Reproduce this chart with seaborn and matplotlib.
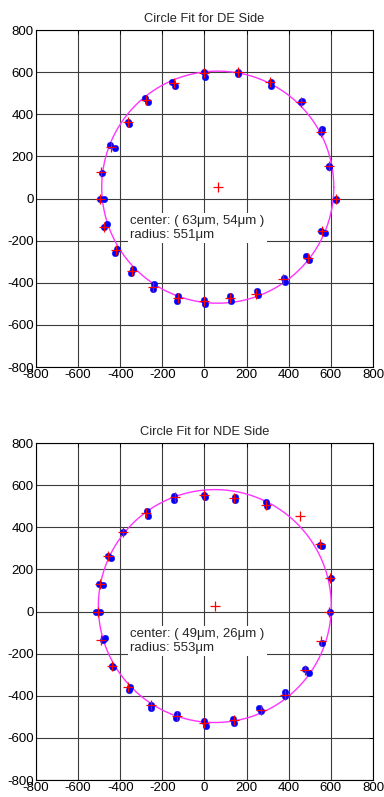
import numpy as np
import pandas as pd
import matplotlib
matplotlib.use("Agg")
import matplotlib.pyplot as plt
import seaborn as sns

sns.set_theme(style="white")
plt.rcParams['font.family'] = ['Liberation Sans', 'DejaVu Sans']

# ---- DE side ----
de_title = "Circle Fit for DE Side"
de_blue_x = [0, 3, 161, 161, 316, 316, 459, 462, 554, 559, 589, 591, 622, 625,
             555, 573, 483, 495, 377, 380, 250, 253, 123, 127, -3, 3,
             -127, -130, -240, -245, -340, -348, -416, -427, -464, -479, -498, -475,
             -488, -451, -427, -364, -359, -282, -269, -153, -142]
de_blue_y = [600, 579, 600, 592, 552, 536, 457, 462, 318, 331, 153, 150, -3, -6,
             -152, -165, -275, -291, -378, -397, -437, -456, -465, -487, -481, -500,
             -465, -487, -405, -429, -334, -353, -239, -258, -123, -136, -3, -3,
             122, 256, 240, 362, 354, 476, 457, 555, 532]
de_red_x = [0, 160, 312, 456, 555, 589, 622, 559, 490, 372, 245, 119, -3,
            -127, -245, -345, -422, -479, -495, -490, -443, -364, -277, -147]
de_red_y = [595, 600, 552, 460, 318, 153, -3, -152, -282, -381, -453, -472, -487,
            -472, -418, -345, -244, -136, -3, 125, 247, 362, 468, 547]
de_center = (63, 54)
de_radius = 551

# ---- NDE side ----
nde_title = "Circle Fit for NDE Side"
nde_blue_x = [0, 3, 146, 147, 293, 297, 549, 557, 601, -147, -146, -272, -269,
              -385, -456, -443, -503, -483, -514, -495, -483, -472, -438, -435,
              -356, -359, -256, -253, -130, -134, -3, 5, 134, 142, 261, 269,
              383, 384, 479, 495, 558, 596]
nde_blue_y = [551, 544, 544, 528, 519, 500, 315, 313, 157, 547, 528, 476, 456,
              379, 263, 252, 133, 125, -3, -3, -134, -127, -258, -261,
              -356, -372, -443, -459, -487, -506, -522, -543, -511, -527, -456, -472,
              -380, -400, -274, -290, -150, -4]
nde_red_x = [0, 142, 293, 454, 549, 598, -139, -277, -388, -456, -498,
             -506, -491, -438, -364, -256, -131, 0, 142, 269, 380, 479, 554, 593]
nde_red_y = [551, 540, 508, 453, 323, 160, 543, 468, 377, 263, 133,
             -3, -134, -258, -359, -446, -498, -530, -514, -467, -396, -277, -142, -3]
nde_center = (49, 26)
nde_radius = 553

ticks = [-800, -600, -400, -200, 0, 200, 400, 600, 800]

fig = plt.figure(figsize=(3.84, 7.97), dpi=100)
ax1 = fig.add_axes([0.09375, 0.5395, 0.8776, 0.4228])
ax2 = fig.add_axes([0.09375, 0.0213, 0.8776, 0.4228])

def draw(ax, title, bx, by, rx, ry, center, radius):
    th = np.linspace(0, 2 * np.pi, 400)
    circ = pd.DataFrame({"x": center[0] + radius * np.cos(th),
                         "y": center[1] + radius * np.sin(th)})
    sns.lineplot(data=circ, x="x", y="y", sort=False, ax=ax, color="#ff33ff",
                 linewidth=1.0, estimator=None, zorder=3)
    sns.scatterplot(x=bx, y=by, ax=ax, color="#0000ff", marker="o", s=22,
                    edgecolor="#0000ff", linewidth=0.3, zorder=4)
    sns.scatterplot(x=rx, y=ry, ax=ax, color="#ff0000", marker="+", s=60,
                    linewidth=0.9, zorder=5)
    sns.scatterplot(x=[center[0]], y=[center[1]], ax=ax, color="#ff0000",
                    marker="+", s=60, linewidth=0.9, zorder=5)
    ax.set_xlim(-800, 800)
    ax.set_ylim(-800, 800)
    ax.set_xticks(ticks)
    ax.set_yticks(ticks)
    ax.set_xticklabels([str(t) for t in ticks])
    ax.set_yticklabels([str(t) for t in ticks])
    ax.set_xlabel("")
    ax.set_ylabel("")
    ax.grid(True, color="#3c3c3c", linewidth=0.8, linestyle="-")
    ax.set_axisbelow(True)
    ax.tick_params(direction="in", length=3, width=0.6, labelsize=9.5,
                   colors="black", top=True, right=True, pad=1.5)
    for sp in ax.spines.values():
        sp.set_color("black")
        sp.set_linewidth(0.8)
    ax.set_title(title, fontsize=9.3, pad=5.5)
    ax.text(-352, -140,
            f"center: ( {center[0]}\u03bcm, {center[1]}\u03bcm )\nradius: {radius}\u03bcm",
            fontsize=9.5, ha="left", va="center", linespacing=1.2, zorder=6,
            bbox=dict(facecolor="white", edgecolor="none", pad=1.5))

draw(ax1, de_title, de_blue_x, de_blue_y, de_red_x, de_red_y, de_center, de_radius)
draw(ax2, nde_title, nde_blue_x, nde_blue_y, nde_red_x, nde_red_y, nde_center, nde_radius)

fig.savefig("out.png", dpi=100)
